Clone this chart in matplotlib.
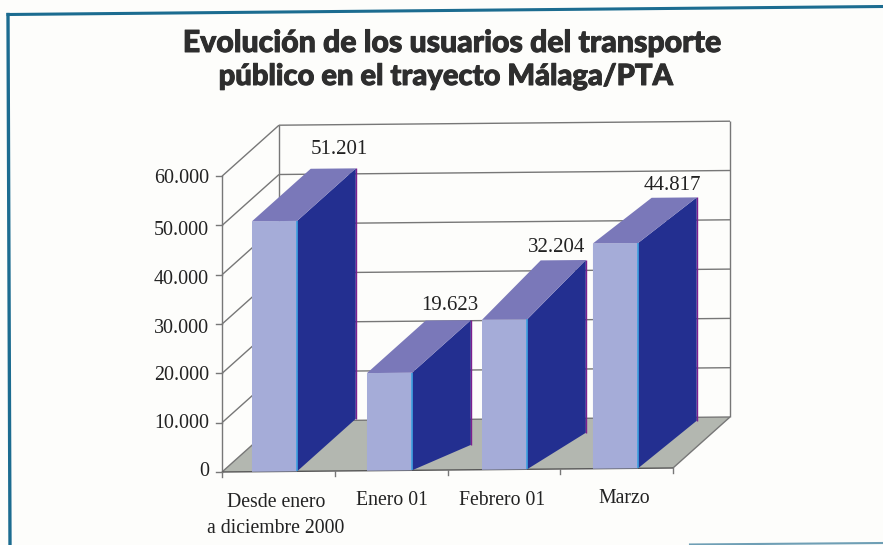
import matplotlib
matplotlib.use("Agg")
import matplotlib.pyplot as plt
import matplotlib.patheffects as pe

categories = ["Desde enero\na diciembre 2000", "Enero 01", "Febrero 01", "Marzo"]
# heights as drawn in the picture, the printed labels do not quite agree with them
bar_heights = [50800, 19800, 30400, 45700]
# the drawing is not a true projection, the back edges of the bars wander
bar_back_heights = [50800, 19800, 31800, 44300]
bar_back_floor = [0, -5500, -3250, -1000]
bar_labels = ["51.201", "19.623", "32.204", "44.817"]
y_ticks = [0, 10000, 20000, 30000, 40000, 50000, 60000]
y_tick_labels = ["0", "10.000", "20.000", "30.000", "40.000", "50.000", "60.000"]

SERIF = "Liberation Serif"
TEXT = "#222222"
GRID = "#777777"

bar_offset = [0.266, 0.286, 0.306, 0.29]
bar_label_pos = [(339, 150), (450, 305), (557, 247), (672, 185)]
tick_label_shift = [0, 1, 2, 4, 5, 5, 2]
cat_label_pos = [(276, 493), (392, 491), (502, 491), (624, 489)]


def project(cat, val, depth):
    # oblique projection: category, value, depth -> pixels of the figure
    x = 222 + cat * 112.75 + depth * 57
    y = 472 - cat * 1.0 - val * 0.00493 - depth * 51
    return x, y


def poly(ax, pts, **kw):
    xy = [project(*p) for p in pts]
    ax.fill([p[0] for p in xy], [p[1] for p in xy], **kw)


def seg(ax, a, b, color=GRID, lw=1.0, **kw):
    pa, pb = project(*a), project(*b)
    ax.plot([pa[0], pb[0]], [pa[1], pb[1]], color=color, lw=lw, solid_capstyle="butt", **kw)


fig = plt.figure(figsize=(8.83, 5.45), dpi=100, facecolor="#fdfdfb")
ax = fig.add_axes([0, 0, 1, 1])
ax.set_xlim(0, 883)
ax.set_ylim(545, 0)
ax.axis("off")

n = len(categories)
top = y_ticks[-1]

# floor
poly(ax, [(0, 0, 0), (n, 0, 0), (n, 0, 1), (0, 0, 1)], color="#b3b7b0", lw=0, zorder=1)

# walls and grid
for t in y_ticks:
    seg(ax, (0, t, 0), (0, t, 1), zorder=2)
    seg(ax, (0, t, 1), (n, t, 1), zorder=2)
    px, py = project(0, t, 0)
    ax.plot([px - 6, px], [py, py], color=GRID, lw=1.0, zorder=2)
seg(ax, (0, 0, 0), (0, top, 0), zorder=2)
seg(ax, (0, 0, 1), (0, top, 1), zorder=2)
seg(ax, (n, 0, 1), (n, top, 1), zorder=2)
seg(ax, (n, 0, 0), (n, 0, 1), zorder=2)
seg(ax, (0, 0, 0), (n, 0, 0), color="#555555", zorder=2)
for i in range(n + 1):
    px, py = project(i, 0, 0)
    ax.plot([px, px], [py, py + 5], color=GRID, lw=1.0, zorder=2)

# bars
bar_w = 0.4
d = 1.03
for i, h in enumerate(bar_heights):
    l = i + bar_offset[i]
    r = l + bar_w
    hb = bar_back_heights[i]
    fb = bar_back_floor[i]
    poly(ax, [(l, 0, 0), (r, 0, 0), (r, h, 0), (l, h, 0)], color="#a5acd8", lw=0, zorder=3)
    poly(ax, [(r, 0, 0), (r, fb, d), (r, hb, d), (r, h, 0)], color="#232f90", lw=0, zorder=3)
    poly(ax, [(l, h, 0), (r, h, 0), (r, hb, d), (l, hb, d)], color="#7a78b9", lw=0, zorder=3)
    seg(ax, (r, 0, 0), (r, h, 0), color="#3d9fe0", lw=1.2, zorder=4)
    seg(ax, (r, fb, d), (r, hb, d), color="#7c1f8f", lw=1.0, zorder=4)

for s, (x, y) in zip(bar_labels, bar_label_pos):
    ax.text(x, y, s, family=SERIF, fontsize=15, color=TEXT, ha="center", va="center", zorder=5)

# tick labels
for t, s, shift in zip(y_ticks, y_tick_labels, tick_label_shift):
    px, py = project(0, t, 0)
    ax.text(px - 13, py + shift, s, family=SERIF, fontsize=14.4, color=TEXT, ha="right", va="center")

for cat, (x, y) in zip(categories, cat_label_pos):
    ax.text(x, y, cat, family=SERIF, fontsize=14.2, color=TEXT, ha="center", va="top", linespacing=1.5)

# title
thick = [pe.withStroke(linewidth=0.7, foreground="#2e2e2e")]
ax.text(452, 43, "Evolución de los usuarios del transporte", family="Lato", weight="black",
        fontsize=21.8, color="#2e2e2e", ha="center", va="center", path_effects=thick)
ax.text(445.5, 77, "público en el trayecto Málaga/PTA", family="Lato", weight="black",
        fontsize=21, color="#2e2e2e", ha="center", va="center", path_effects=thick)

# frame
ax.plot([10, 8], [545, 14.5], color="#1c6c90", lw=2.4)
ax.plot([8, 883], [14.5, 6.5], color="#1c6c90", lw=2.2)
ax.plot([690, 883], [544.5, 543], color="#6f9fb5", lw=1.5)

fig.savefig("out.png", dpi=100, facecolor=fig.get_facecolor())
